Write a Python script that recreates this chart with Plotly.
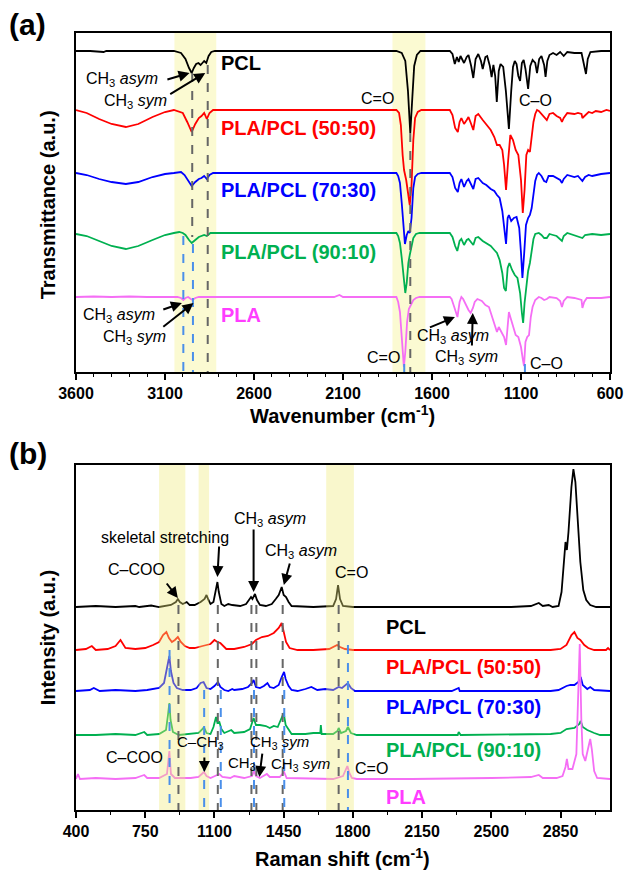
import plotly.graph_objects as go

# ---------------- Panel (a): FTIR, (wavenumber cm-1, transmittance change a.u.) ----------------
FTIR_PCL = [(3600,0),(3520,0),(3445,-1),(3430,0),(3300,0),(3150,0),(3050,0),(3010,-2),(2985,-8),(2965,-17),
            (2950,-22),(2938,-17),(2925,-13),(2912,-12),(2900,-14),(2890,-12),(2880,-10),(2868,-12),(2855,-5),
            (2840,-1),(2820,0),(2600,0),(2400,0),(2200,0),(2000,0),(1800,0),(1770,-2),(1750,-10),(1735,-40),
            (1722,-82),(1710,-45),(1700,-15),(1685,-4),(1665,0),(1600,0),(1500,0),(1485,-3),(1472,-13),(1460,-6),
            (1450,-11),(1440,-5),(1420,-12),(1405,-6),(1395,-4),(1380,-15),(1368,-27),(1355,-8),(1340,-3),
            (1325,-10),(1315,-18),(1300,-6),(1290,-5),(1275,-15),(1265,-26),(1255,-14),(1245,-25),(1236,-51),
            (1225,-20),(1215,-13),(1200,-16),(1185,-40),(1168,-78),(1155,-40),(1145,-16),(1135,-10),(1125,-13),
            (1115,-25),(1105,-30),(1095,-12),(1085,-9),(1075,-18),(1060,-38),(1048,-15),(1035,-9),(1020,-12),
            (1010,-22),(998,-8),(985,-5),(970,-14),(962,-26),(952,-10),(940,-4),(920,-2),(900,-4),(880,-1),
            (860,-5),(840,-1),(800,-2),(760,-2),(745,-15),(735,-23),(725,-8),(710,-1),(650,0),(600,0)]

FTIR_5050 = [(3600,0),(3540,-3),(3470,-9),(3400,-14),(3320,-17),(3250,-14),(3170,-7),(3100,-2),(3050,0),
             (3000,-3),(2975,-12),(2950,-22),(2930,-14),(2910,-8),(2895,-6),(2880,-3),(2865,-9),(2850,-3),
             (2830,0),(2500,0),(2200,0),(2000,0),(1800,0),(1785,-3),(1775,-15),(1765,-45),(1757,-60),(1745,-70),
             (1735,-85),(1725,-95),(1715,-75),(1705,-30),(1695,-8),(1680,-2),(1660,0),(1500,0),(1485,-5),
             (1470,-18),(1455,-22),(1445,-12),(1435,-8),(1420,-14),(1405,-10),(1395,-7),(1380,-14),(1368,-20),
             (1355,-6),(1340,-4),(1315,-10),(1295,-15),(1270,-20),(1250,-27),(1235,-35),(1220,-35),(1205,-40),
             (1195,-55),(1184,-80),(1172,-50),(1160,-25),(1145,-30),(1130,-40),(1115,-45),(1100,-70),(1090,-103),
             (1080,-80),(1070,-45),(1060,-40),(1050,-42),(1040,-25),(1030,-12),(1020,-4),(1010,0),(1000,-1),
             (985,-4),(970,-8),(955,-10),(940,-4),(920,-3),(900,-6),(880,-8),(870,-12),(860,-8),(840,-3),
             (800,-4),(780,-3),(760,-4),(755,-8),(745,-6),(720,-2),(700,-3),(680,-1),(650,-2),(620,0),(600,-1)]

FTIR_7030 = [(3600,0),(3540,-2),(3470,-6),(3400,-9),(3320,-11),(3250,-9),(3170,-4),(3100,-1),(3050,0),
             (3010,1),(2990,-2),(2970,-8),(2950,-13),(2930,-9),(2910,-6),(2895,-5),(2880,-3),(2865,-6),
             (2850,-2),(2830,0),(2500,0),(2200,0),(2000,0),(1800,0),(1790,-3),(1780,-10),(1770,-30),(1760,-55),
             (1752,-71),(1742,-62),(1733,-58),(1725,-60),(1715,-45),(1705,-15),(1695,-4),(1680,-1),(1660,0),
             (1500,0),(1485,-4),(1470,-15),(1455,-19),(1445,-10),(1435,-6),(1420,-14),(1405,-8),(1395,-6),
             (1380,-12),(1368,-16),(1355,-6),(1340,-5),(1315,-10),(1295,-12),(1270,-16),(1250,-18),(1235,-22),
             (1220,-25),(1205,-38),(1195,-55),(1184,-71),(1175,-45),(1168,-42),(1155,-48),(1140,-45),
             (1125,-44),(1110,-55),(1100,-80),(1092,-105),(1082,-80),(1072,-52),(1060,-45),(1050,-42),
             (1040,-35),(1030,-20),(1020,-8),(1010,-2),(1000,0),(985,-3),(970,-8),(958,-9),(945,-3),(920,-3),
             (900,-5),(880,-7),(870,-10),(860,-6),(840,-2),(800,-4),(780,-3),(755,-8),(740,-4),(720,-2),
             (700,-3),(650,-1),(600,0)]

FTIR_9010 = [(3600,-1),(3540,-3),(3470,-8),(3400,-13),(3320,-16),(3250,-13),(3170,-7),(3100,-2),(3050,0),
             (3020,1),(3000,0),(2985,-2),(2965,-7),(2950,-10),(2930,-7),(2910,-4),(2880,-2),(2865,-3),
             (2845,0),(2500,0),(2200,0),(2000,0),(1800,0),(1790,-3),(1780,-10),(1770,-25),(1762,-40),(1755,-55),
             (1750,-60),(1742,-50),(1733,-30),(1725,-22),(1715,-12),(1705,-5),(1690,-1),(1670,0),(1500,0),
             (1485,-4),(1470,-13),(1458,-18),(1445,-8),(1435,-6),(1420,-12),(1405,-7),(1395,-6),(1380,-10),
             (1368,-12),(1355,-5),(1340,-4),(1315,-8),(1295,-10),(1270,-13),(1250,-17),(1235,-20),(1220,-27),
             (1205,-40),(1195,-55),(1185,-58),(1175,-35),(1165,-30),(1150,-37),(1135,-42),(1120,-45),
             (1105,-60),(1095,-80),(1088,-90),(1080,-70),(1070,-50),(1060,-38),(1050,-30),(1040,-15),
             (1030,-6),(1020,-1),(1000,0),(985,-2),(970,-5),(955,-5),(940,-1),(920,-2),(900,-3),(870,-8),
             (860,-3),(840,0),(800,-2),(755,-5),(740,-2),(700,-1),(650,-2),(600,-1)]

FTIR_PLA = [(3600,0),(3500,0.5),(3400,0),(3300,0.5),(3200,0),(3100,0),(3030,0),(3010,-1),(2997,-3),(2985,-1),
            (2970,0),(2955,-2),(2945,-3),(2930,-1),(2910,0),(2500,0),(2300,0),(2150,0),(2120,2),(2100,0),
            (2000,0),(1850,0),(1800,0),(1790,-5),(1780,-15),(1772,-35),(1765,-60),(1758,-70),(1750,-55),
            (1740,-25),(1730,-12),(1720,-8),(1705,-3),(1690,-1),(1670,0),(1500,0),(1490,-2),(1475,-10),
            (1457,-20),(1445,-5),(1435,0),(1425,-2),(1410,-8),(1395,-13),(1383,-16),(1370,-11),(1360,-5),
            (1345,-2),(1320,-4),(1300,-8),(1280,-10),(1265,-18),(1250,-25),(1235,-35),(1225,-30),(1210,-35),
            (1195,-40),(1184,-48),(1175,-25),(1168,-15),(1160,-20),(1145,-30),(1130,-38),(1115,-40),
            (1100,-50),(1090,-62),(1083,-69),(1075,-45),(1065,-40),(1055,-38),(1045,-20),(1035,-10),
            (1020,-3),(1000,0),(985,-1),(970,-3),(955,-2),(940,0),(900,-1),(880,-4),(870,-10),(860,-4),
            (840,0),(800,-1),(760,-3),(755,-11),(745,-5),(730,-1),(700,-1),(650,-1),(600,0)]

# ---------------- Panel (b): Raman, (Raman shift cm-1, intensity a.u.) ----------------
RAMAN_PCL = [(400,0),(500,1),(600,0),(700,1),(720,0),(780,1.5),(820,0),(880,2),(905,5),(915,8),(925,5),
             (940,3),(960,5),(975,2),(1000,2),(1030,5),(1050,8),(1060,12),(1070,7),(1080,3),(1095,5),
             (1108,18),(1115,25),(1122,15),(1135,3),(1150,1),(1170,3),(1190,2),(1230,1),(1260,3),(1275,7),
             (1285,10),(1292,8),(1305,13),(1315,7),(1330,2),(1360,1),(1390,3),(1410,8),(1425,12),(1440,20),
             (1450,12),(1462,10),(1475,5),(1490,1),(1600,0),(1700,1),(1715,8),(1725,22),(1735,8),(1750,1),
             (1800,0),(2000,0),(2300,0),(2600,0),(2700,1),(2740,4),(2760,1),(2790,2),(2810,0),(2840,1),
             (2855,15),(2868,55),(2875,65),(2882,57),(2890,75),(2905,120),(2915,138),(2925,125),(2935,90),
             (2950,45),(2965,17),(2980,7),(3000,2),(3030,0),(3100,0)]

RAMAN_5050 = [(400,0),(450,1),(480,4),(500,0),(560,1),(600,4),(625,10),(650,2),(700,1),(750,2),(790,5),
              (820,8),(840,15),(857,18),(870,12),(885,8),(900,10),(915,13),(930,8),(950,4),(975,2),(1000,2),
              (1040,4),(1080,6),(1100,10),(1115,8),(1130,7),(1145,4),(1160,1),(1200,1),(1250,3),(1290,6),
              (1310,10),(1340,13),(1370,14),(1400,17),(1425,22),(1440,27),(1450,18),(1462,8),(1480,2),
              (1520,0),(1600,0),(1680,1),(1720,5),(1735,3),(1760,1),(1800,0),(2400,0),(2800,0),(2850,1),
              (2880,5),(2905,15),(2920,18),(2935,12),(2950,10),(2970,5),(2990,2),(3020,0),(3080,0),(3090,2),
              (3100,0)]

RAMAN_7030 = [(400,0),(470,1),(490,3),(520,0),(600,1),(700,0),(760,1),(820,3),(845,8),(862,25),(872,35),
              (880,20),(893,8),(910,3),(940,1),(980,1),(1010,3),(1030,8),(1045,9),(1060,3),(1080,2),
              (1100,5),(1118,9),(1130,4),(1150,1),(1170,0),(1190,2),(1200,1),(1240,2),(1270,4),(1290,8),
              (1298,11),(1310,4),(1330,3),(1350,5),(1368,8),(1380,4),(1400,3),(1425,6),(1440,14),(1452,19),
              (1460,12),(1475,5),(1490,1),(1520,0),(1560,2),(1590,4),(1620,1),(1660,2),(1700,1),(1728,4),
              (1745,3),(1765,6),(1775,8),(1790,3),(1810,0),(2300,0),(2335,3),(2340,0),(2800,0),(2840,1),
              (2880,5),(2900,6),(2920,6),(2940,9),(2952,14),(2962,6),(2985,2),(3000,4),(3020,1),(3100,0)]

RAMAN_9010 = [(400,0),(500,0),(600,1),(700,0),(745,3),(760,0),(820,1),(855,5),(865,20),(872,32),(878,15),
              (890,3),(920,0),(980,1),(1020,2),(1040,6),(1047,8),(1060,2),(1080,1),(1095,8),(1108,18),
              (1115,12),(1125,13),(1135,6),(1150,2),(1185,5),(1200,2),(1250,3),(1280,6),(1298,17),(1310,10),
              (1330,10),(1360,9),(1380,7),(1400,9),(1420,8),(1440,18),(1450,22),(1460,10),(1475,5),(1490,1),
              (1560,1),(1600,2),(1635,2),(1638,10),(1642,1),(1700,1),(1722,4),(1728,7),(1740,2),(1765,4),
              (1775,8),(1790,2),(1820,0),(2330,0),(2335,3),(2345,0),(2800,1),(2850,2),(2880,6),(2920,7),
              (2945,11),(2952,14),(2962,8),(2985,5),(3020,2),(3050,0),(3100,0)]

RAMAN_PLA = [(400,0),(410,5),(420,0),(500,1),(600,0),(700,1),(730,3),(745,4),(760,1),(820,1),(860,5),
             (872,28),(880,5),(900,1),(980,1),(1020,2),(1047,7),(1060,3),(1080,1),(1100,3),(1125,5),(1140,2),
             (1180,1),(1200,3),(1250,1),(1290,3),(1300,8),(1310,3),(1330,1),(1365,5),(1380,2),(1430,2),
             (1452,7),(1465,1),(1600,0),(1700,0),(1750,3),(1765,10),(1772,13),(1782,6),(1795,1),(1820,0),
             (2100,0),(2500,1),(2700,2),(2740,4),(2760,1),(2830,1),(2860,3),(2875,12),(2882,20),(2890,10),
             (2910,10),(2930,25),(2940,80),(2947,135),(2955,60),(2962,25),(2975,18),(2990,30),(3000,40),
             (3008,30),(3020,8),(3035,1),(3100,0)]

SERIES_NAMES = ["PCL", "PLA/PCL (50:50)", "PLA/PCL (70:30)", "PLA/PCL (90:10)", "PLA"]
FTIR_DATA = [FTIR_PCL, FTIR_5050, FTIR_7030, FTIR_9010, FTIR_PLA]
RAMAN_DATA = [RAMAN_PCL, RAMAN_5050, RAMAN_7030, RAMAN_9010, RAMAN_PLA]

# ---------------- styling / layout constants ----------------
LINE_COLORS = ["#000000", "#FF0000", "#0000FF", "#00B050", "#F56EF5"]
TEXT_COLORS = ["#000000", "#FF0000", "#0000FF", "#00B050", "#FF3DFF"]
FTIR_OFFSETS = [321, 262, 199, 139, 75]
RAMAN_OFFSETS = [203, 160, 119, 75, 31]
FONT = "Liberation Sans, Arial, sans-serif"

fig = go.Figure()
for data, off, col, name in zip(FTIR_DATA, FTIR_OFFSETS, LINE_COLORS, SERIES_NAMES):
    fig.add_trace(go.Scatter(x=[p[0] for p in data], y=[p[1] + off for p in data], mode="lines",
                             line=dict(color=col, width=1.8), name=name, showlegend=False,
                             xaxis="x", yaxis="y"))
for data, off, col, name in zip(RAMAN_DATA, RAMAN_OFFSETS, LINE_COLORS, SERIES_NAMES):
    fig.add_trace(go.Scatter(x=[p[0] for p in data], y=[p[1] + off for p in data], mode="lines",
                             line=dict(color=col, width=1.8), name=name, showlegend=False,
                             xaxis="x2", yaxis="y2"))

shapes = []
# yellow highlight bands
for x0, x1 in [(3047, 2812), (1822, 1637)]:
    shapes.append(dict(type="rect", xref="x", yref="y domain", x0=x0, x1=x1, y0=0, y1=1,
                       fillcolor="#FBFAD2", line=dict(width=0), layer="below"))
for x0, x1 in [(820, 953), (1020, 1073), (1665, 1805)]:
    shapes.append(dict(type="rect", xref="x2", yref="y2 domain", x0=x0, x1=x1, y0=0, y1=1,
                       fillcolor="rgba(240,235,120,0.38)", line=dict(width=0), layer="above"))

GREY = "#666666"
LBLUE = "#4A8FEA"
def vdash(xr, yr, x, y0, y1, color):
    shapes.append(dict(type="line", xref=xr, yref=yr, x0=x, x1=x, y0=y0, y1=y1,
                       line=dict(color=color, width=2, dash="dash"), layer="above"))

vdash("x", "y", 2947, 299, 135, GREY)
vdash("x", "y", 2860, 307, 0, GREY)
vdash("x", "y", 1722, 239, 0, GREY)
vdash("x", "y", 2997, 136, 0, LBLUE)
vdash("x", "y", 2943, 128, 0, LBLUE)
vdash("x", "y", 1756, 8, 0, LBLUE)
vdash("x", "y", 1078, 8, 0, LBLUE)

for x in [918, 1117, 1287, 1312, 1445, 1728]:
    vdash("x2", "y2", x, 205, 0, GREY)
for x, y0 in [(873, 160), (1048, 120), (1132, 120), (1300, 120), (1453, 120), (1775, 165)]:
    vdash("x2", "y2", x, y0, 0, LBLUE)

ann = []
def txt(xr, yr, x, y, s, size=16, color="black", bold=False, xanchor="center"):
    ann.append(dict(xref=xr, yref=yr, x=x, y=y, text=s, showarrow=False, xanchor=xanchor,
                    yanchor="middle", font=dict(family=FONT, size=size, color=color,
                                                weight="bold" if bold else "normal")))
def arrow(xr, yr, x0, y0, x1, y1):
    ann.append(dict(xref=xr, yref=yr, axref=xr, ayref=yr, x=x1, y=y1, ax=x0, ay=y0, text="",
                    showarrow=True, arrowhead=2, arrowsize=1.1, arrowwidth=2, arrowcolor="black"))

CH3A = "CH<sub>3</sub> <i>asym</i>"
CH3S = "CH<sub>3</sub> <i>sym</i>"

# panel a labels
label_y_a = [309, 244, 182, 120, 57]
for name, col, yy in zip(SERIES_NAMES, TEXT_COLORS, label_y_a):
    txt("x", "y", 2796, yy, name, size=20, color=col, bold=True, xanchor="left")
txt("x", "y", 3339, 293, CH3A); arrow("x", "y", 3095, 292, 2962, 299)
txt("x", "y", 3267, 271, CH3S); arrow("x", "y", 3079, 277, 2874, 299)
txt("x", "y", 3356, 57, CH3A); arrow("x", "y", 3118, 62, 3005, 69)
txt("x", "y", 3273, 35, CH3S); arrow("x", "y", 3118, 44, 2940, 69)
txt("x", "y", 1909, 274, "C=O")
txt("x", "y", 1016, 272, "C–O")
txt("x", "y", 1875, 15, "C=O")
txt("x", "y", 955, 9, "C–O")
txt("x", "y", 1482, 36, CH3A); arrow("x", "y", 1620, 44, 1471, 55)
txt("x", "y", 1404, 15, CH3S); arrow("x", "y", 1376, 25, 1371, 59)

# panel b labels
label_y_b = [183, 143, 103, 60, 13]
for name, col, yy in zip(SERIES_NAMES, TEXT_COLORS, label_y_b):
    txt("x2", "y2", 1957, yy, name, size=20, color=col, bold=True, xanchor="left")
txt("x2", "y2", 849, 273, "skeletal stretching"); arrow("x2", "y2", 1124, 265, 1115, 233)
txt("x2", "y2", 704, 241, "C–COO"); arrow("x2", "y2", 853, 228, 915, 212)
txt("x2", "y2", 1383, 291, CH3A); arrow("x2", "y2", 1298, 282, 1298, 218)
txt("x2", "y2", 1538, 259, CH3A); arrow("x2", "y2", 1483, 248, 1451, 225)
txt("x2", "y2", 1792, 238, "C=O")
txt("x2", "y2", 694, 53, "C–COO")
txt("x2", "y2", 1030, 68, "C–CH<sub>3</sub>", size=15); arrow("x2", "y2", 1049, 54, 1049, 38)
txt("x2", "y2", 1238, 47, "CH<sub>3</sub>", size=15)
txt("x2", "y2", 1428, 68, CH3S, size=15); arrow("x2", "y2", 1343, 58, 1327, 33)
txt("x2", "y2", 1536, 46, CH3S, size=15)
txt("x2", "y2", 1892, 42, "C=O")

# titles and panel letters (paper coordinates)
def px2paper(px, py):
    return (px - 76) / 541.0, 1 - (py - 33) / 777.0
def ptxt(px, py, s, size, angle=0):
    x, y = px2paper(px, py)
    ann.append(dict(xref="paper", yref="paper", x=x, y=y, text=s, showarrow=False,
                    xanchor="center", yanchor="middle", textangle=angle,
                    font=dict(family=FONT, size=size, color="black", weight="bold")))
ptxt(48, 205, "Transmittance (a.u.)", 20, -90)
ptxt(48, 637, "Intensity (a.u.)", 20, -90)
ptxt(346, 414, "Wavenumber (cm<sup>-1</sup>)", 20)
ptxt(346, 857, "Raman shift (cm<sup>-1</sup>)", 20)
ptxt(27, 24, "(a)", 30)
ptxt(27, 454, "(b)", 30)

axis_common = dict(showline=True, mirror=True, linecolor="black", linewidth=2, showgrid=False,
                   zeroline=False)
tickfont = dict(family=FONT, size=16, color="black", weight="bold")

fig.update_layout(
    width=635, height=870, margin=dict(l=76, r=18, t=33, b=60),
    paper_bgcolor="white", plot_bgcolor="white", showlegend=False,
    xaxis=dict(axis_common, domain=[0, 1], anchor="y", range=[3600, 600],
               tickmode="array", tickvals=[3600, 3100, 2600, 2100, 1600, 1100, 600],
               ticks="outside", ticklen=6, tickwidth=1.5, tickcolor="black", tickfont=tickfont,
               minor=dict(ticks="outside", dtick=100, tick0=600, ticklen=3, tickwidth=1.2, tickcolor="black")),
    yaxis=dict(axis_common, domain=[0.5637, 1], anchor="x", range=[0, 339], showticklabels=False, ticks=""),
    xaxis2=dict(axis_common, domain=[0, 1], anchor="y2", range=[400, 3100],
                tickmode="array", tickvals=[400, 750, 1100, 1450, 1800, 2150, 2500, 2850],
                ticks="outside", ticklen=6, tickwidth=1.5, tickcolor="black", tickfont=tickfont,
                minor=dict(ticks="outside", dtick=175, tick0=400, ticklen=3, tickwidth=1.2, tickcolor="black")),
    yaxis2=dict(axis_common, domain=[0, 0.444], anchor="x2", range=[0, 345], showticklabels=False, ticks=""),
    shapes=shapes, annotations=ann,
)

fig.write_html("out.html")
